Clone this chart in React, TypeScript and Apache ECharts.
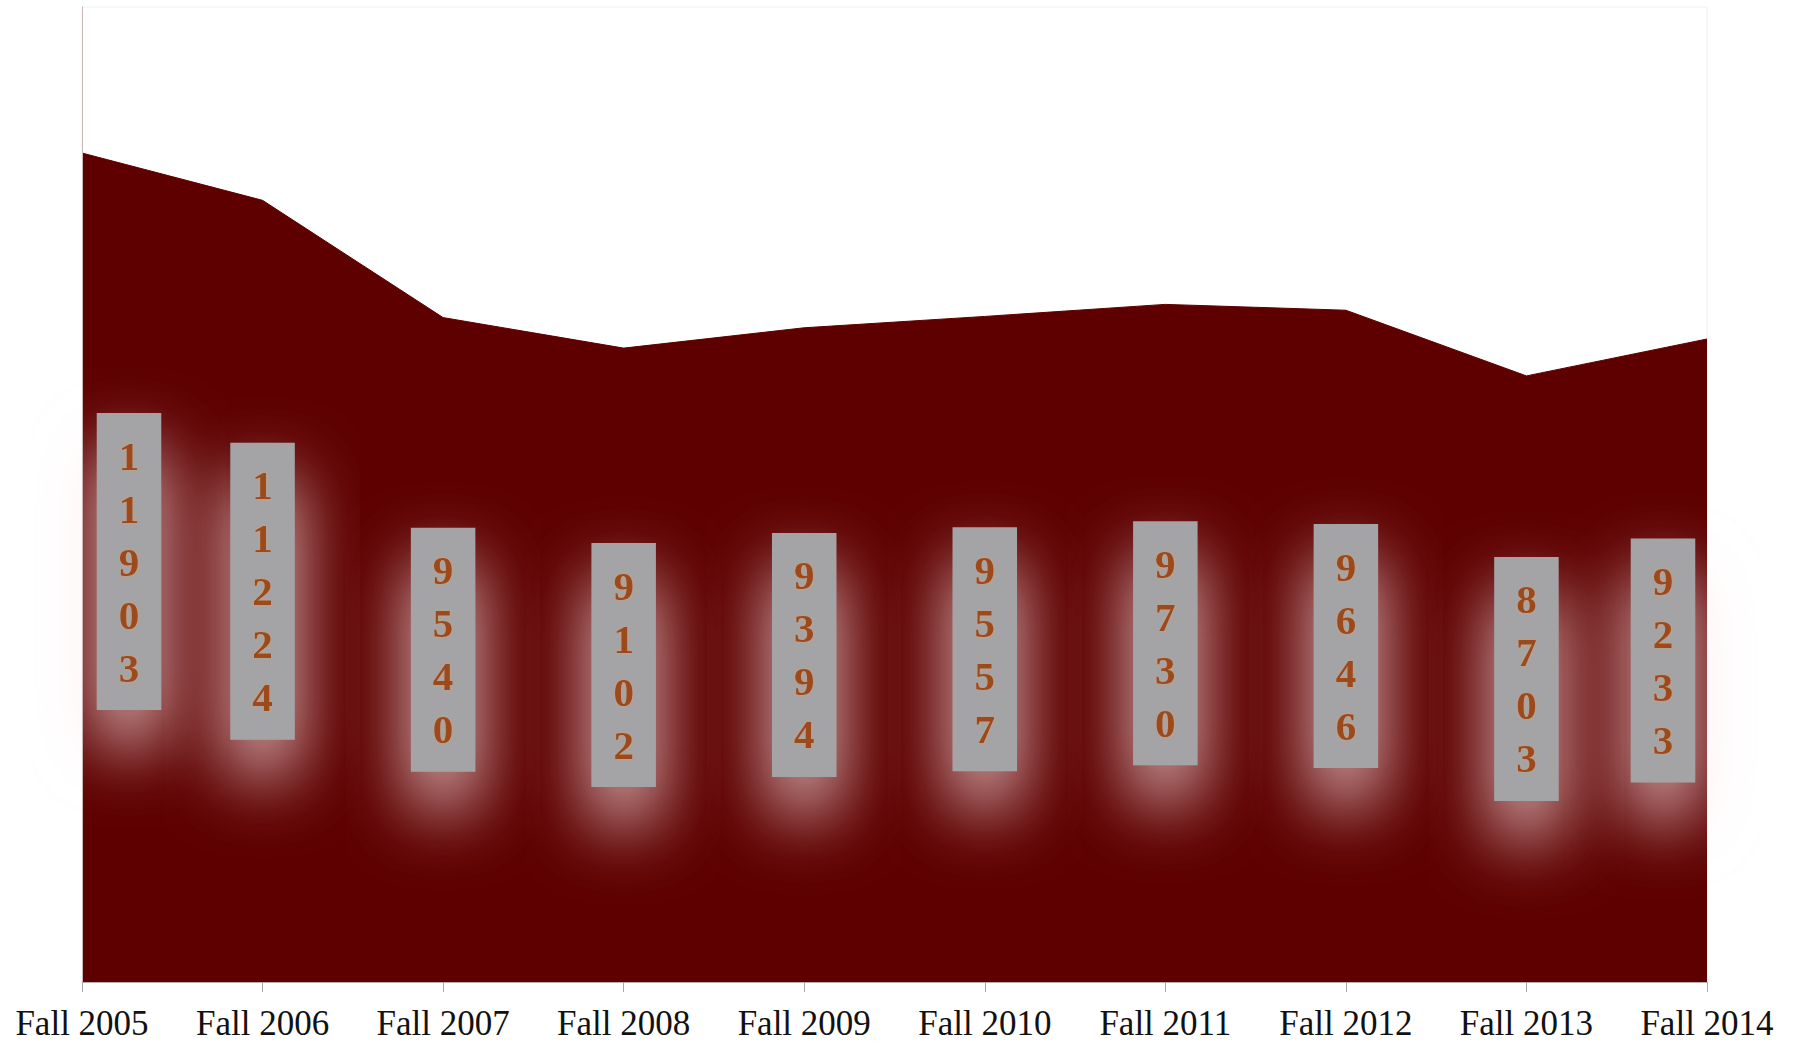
import React, { useEffect, useRef } from "react";
import * as echarts from "echarts";

const categories = [
  "Fall 2005",
  "Fall 2006",
  "Fall 2007",
  "Fall 2008",
  "Fall 2009",
  "Fall 2010",
  "Fall 2011",
  "Fall 2012",
  "Fall 2013",
  "Fall 2014",
];

const enrollment = [11903, 11224, 9540, 9102, 9394, 9557, 9730, 9646, 8703, 9233];

const yMin = 0;
const yMax = 14000;

const AREA_COLOR = "#5e0000";
const SERIF = "'Liberation Serif', 'Times New Roman', Times, serif";

export default function App() {
  const ref = useRef<HTMLDivElement | null>(null);

  useEffect(() => {
    if (!ref.current) return;
    const chart = echarts.init(ref.current, undefined, { renderer: "svg" });
    const n = enrollment.length;

    const labelData = enrollment.map((v, i) => ({
      value: v,
      label: {
        offset: i === 0 ? [47, -6] : i === n - 1 ? [-44, 0] : [0, 0],
      },
    }));

    chart.setOption({
      animation: false,
      backgroundColor: "#ffffff",
      grid: {
        left: 82,
        right: 89,
        top: 7,
        bottom: 62,
        show: true,
        borderColor: "#f0f0f0",
        borderWidth: 1,
        backgroundColor: "transparent",
      },
      xAxis: {
        type: "category",
        data: categories,
        boundaryGap: false,
        z: 5,
        axisLine: { show: true, lineStyle: { color: "#b8b0b0", width: 1 } },
        axisTick: { show: true, length: 10, lineStyle: { color: "#a8a8a8" } },
        axisLabel: {
          interval: 0,
          margin: 24,
          color: "#111111",
          fontFamily: SERIF,
          fontSize: 35,
        },
        splitLine: { show: false },
      },
      yAxis: {
        type: "value",
        min: yMin,
        max: yMax,
        z: 5,
        axisLine: { show: true, lineStyle: { color: "#c9b9b9", width: 1 } },
        axisTick: { show: false },
        axisLabel: { show: false },
        splitLine: { show: false },
      },
      series: [
        {
          type: "line",
          data: enrollment,
          symbol: "none",
          smooth: false,
          z: 2,
          lineStyle: { color: AREA_COLOR, width: 1 },
          areaStyle: { color: AREA_COLOR, opacity: 1 },
          silent: true,
        },
        {
          type: "bar",
          data: labelData,
          barWidth: 65,
          clip: false,
          z: 3,
          silent: true,
          itemStyle: { color: "rgba(0,0,0,0)" },
          label: {
            show: true,
            position: "inside",
            formatter: (p: any) => String(p.value).split("").join("\n"),
            fontFamily: SERIF,
            fontWeight: "bold",
            fontSize: 41,
            lineHeight: 53,
            color: "#9c4a1a",
            textShadowColor: "rgba(235,150,90,0.55)",
            textShadowBlur: 3,
            backgroundColor: "#a4a4a6",
            padding: [16, 22],
            align: "center",
            verticalAlign: "middle",
            shadowColor: "rgba(255,232,232,0.85)",
            shadowBlur: 70,
            shadowOffsetY: 36,
          },
        },
      ],
    });

    return () => {
      chart.dispose();
    };
  }, []);

  return (
    <div
      ref={ref}
      style={{ position: "absolute", left: 0, top: 0, width: 1796, height: 1044 }}
    />
  );
}
